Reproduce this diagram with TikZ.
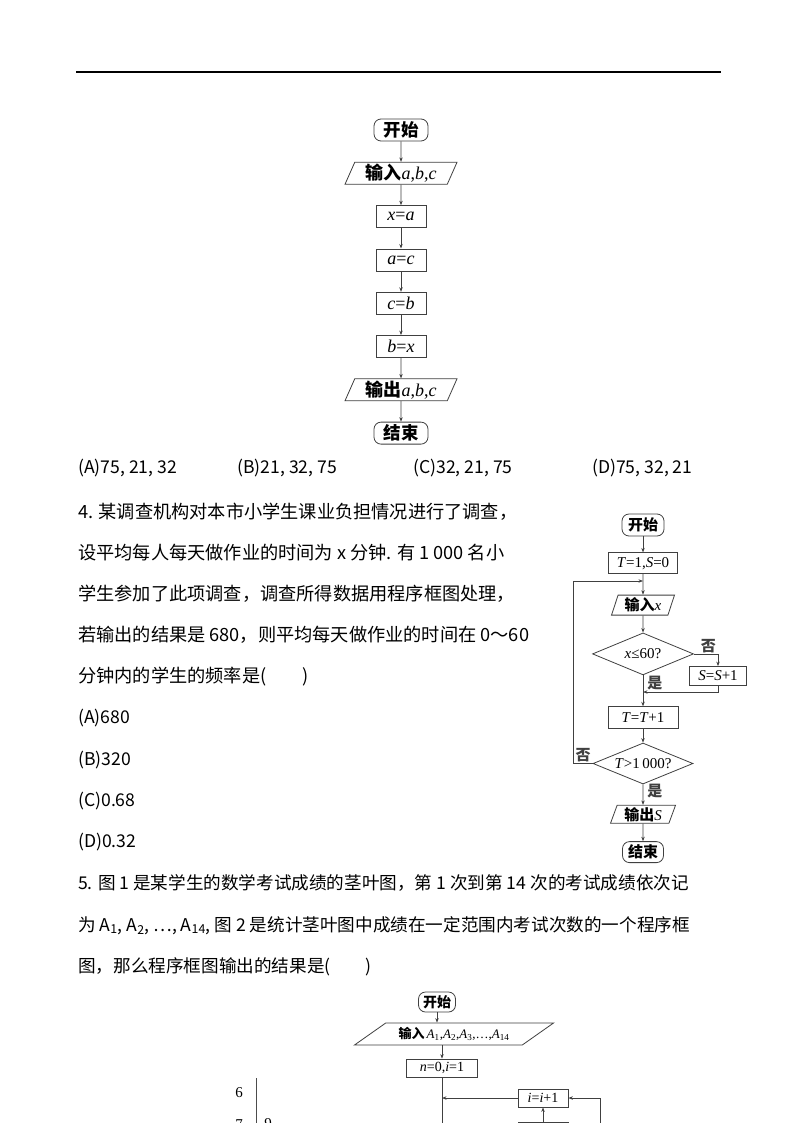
\documentclass[tikz,border=0pt]{standalone}
\usepackage{fontspec}
\setmainfont{Liberation Serif}
\newfontfamily\cjk{Noto Sans CJK SC}
\usetikzlibrary{arrows.meta, positioning, shapes.geometric, calc}
\newcommand\cnb[1]{{\cjk\bfseries #1}}
\newcommand\mv[1]{\textit{#1}}

\begin{document}
\begin{tikzpicture}[
  x=1pt, y=-1pt,
  >={Stealth[length=4.5pt, width=3.4pt]},
  node distance = 20.5pt,
  txtline/.style = {anchor=west, inner sep=0pt,
                    font=\cjk\fontsize{17.6}{20}\selectfont,
                    text height=15pt, text depth=3pt},
  q4line/.style  = {txtline, font=\cjk\fontsize{18.2}{20}\selectfont},
  termbox/.style = {draw=black!75, line width=0.8pt, rounded corners=7pt,
                    inner sep=1pt, minimum height=22pt,
                    font=\cjk\bfseries\fontsize{15}{16}\selectfont},
  procbox/.style = {draw=black!75, line width=0.8pt, inner sep=1pt,
                    minimum height=22pt, font=\fontsize{15}{16}\selectfont},
  iobox/.style   = {draw=black!75, line width=0.8pt, trapezium,
                    trapezium left angle=62, trapezium right angle=118,
                    trapezium stretches body, inner sep=1pt,
                    minimum height=22pt, font=\fontsize{15}{16}\selectfont},
  decbox/.style  = {draw=black!75, line width=0.8pt, diamond, aspect=2.4,
                    inner sep=0pt, font=\fontsize{15}{16}\selectfont},
  bigtxt/.style  = {inner ysep=0pt, font=\fontsize{18}{20}\selectfont},
  bigterm/.style = {inner ysep=0pt, font=\cjk\bfseries\fontsize{17.5}{20}\selectfont},
  arr/.style     = {->, line width=0.7pt, black!75},
  flow/.style    = {line width=0.7pt, black!75},
  lbl/.style     = {font=\cjk\bfseries\fontsize{15}{16}\selectfont, inner sep=1pt},
  leaf/.style    = {font=\fontsize{15}{16}\selectfont, inner sep=0pt},
]

\fill[white] (0,0) rectangle (794,1123);
\useasboundingbox (0,0) rectangle (794,1123);
\clip (0,0) rectangle (794,1123);

% header rule
\draw[line width=1.2pt] (76,72) -- (721,72);

% =============================================
% FLOWCHART 1 (swap a, b, c)
% =============================================
\node[termbox, bigterm, minimum width=54pt] (st1) at (401,130) {开始};
\node[iobox, bigtxt, minimum width=112pt, below=of st1] (in1)  {\cnb{输入}\mv{a},\mv{b},\mv{c}};
\node[procbox, bigtxt, minimum width=50pt, below=of in1] (s1)  {\mv{x}=\mv{a}};
\node[procbox, bigtxt, minimum width=50pt, below=of s1]  (s2)  {\mv{a}=\mv{c}};
\node[procbox, bigtxt, minimum width=50pt, below=of s2]  (s3)  {\mv{c}=\mv{b}};
\node[procbox, bigtxt, minimum width=50pt, below=of s3]  (s4)  {\mv{b}=\mv{x}};
\node[iobox, bigtxt, minimum width=112pt, below=of s4]   (out1) {\cnb{输出}\mv{a},\mv{b},\mv{c}};
\node[termbox, bigterm, minimum width=54pt, below=of out1] (end1) {结束};

\foreach \a/\b in {st1/in1, in1/s1, s1/s2, s2/s3, s3/s4, s4/out1, out1/end1}
  \draw[arr] (\a) -- (\b);

% answer choices of question 3
\node[txtline] (optA) at (78,467)  {(A)75, 21, 32};
\node[txtline] (optB) at (237,467) {(B)21, 32, 75};
\node[txtline] (optC) at (413,467) {(C)32, 21, 75};
\node[txtline] (optD) at (592,467) {(D)75, 32, 21};

% =============================================
% QUESTION 4 TEXT
% =============================================
\node[q4line] (q4a) at (78,512) {4. 某调查机构对本市小学生课业负担情况进行了调查，};
\node[q4line] (q4b) at (78,553) {设平均每人每天做作业的时间为 x 分钟. 有 1 000 名小};
\node[q4line] (q4c) at (78,594) {学生参加了此项调查，调查所得数据用程序框图处理，};
\node[q4line] (q4d) at (78,635) {若输出的结果是 680，则平均每天做作业的时间在 0～60};
\node[q4line] (q4e) at (78,676) {分钟内的学生的频率是(　　)};
\node[txtline] (q4A) at (78,717) {(A)680};
\node[txtline] (q4B) at (78,759) {(B)320};
\node[txtline] (q4C) at (78,800) {(C)0.68};
\node[txtline] (q4D) at (78,841) {(D)0.32};

% =============================================
% FLOWCHART 2 (frequency count)
% =============================================
\node[termbox, minimum width=42pt] (st2) at (643,525) {开始};
\node[procbox, minimum width=69pt, minimum height=21pt, below=16pt of st2] (ini2) {\mv{T}=1,\mv{S}=0};
\node[iobox, minimum width=63pt, minimum height=20pt, trapezium left angle=68,
      trapezium right angle=112, below=20.5pt of ini2] (in2) {\cnb{输入}\mv{x}};
\node[decbox, minimum width=101pt, minimum height=42pt, below=17pt of in2] (dec1) {\mv{x}≤60?};
\node[procbox, minimum width=57pt, minimum height=19pt] (inc2) at (718,676) {\mv{S}=\mv{S}+1};
\node[procbox, minimum width=70pt, below=31pt of dec1] (upd2) {\mv{T}=\mv{T}+1};
\node[decbox, minimum width=100pt, minimum height=41pt, below=13.5pt of upd2] (dec2) {\mv{T}>1\,000?};
\node[iobox, minimum width=65pt, minimum height=18pt, trapezium left angle=68,
      trapezium right angle=112, below=20.5pt of dec2] (out2) {\cnb{输出}\mv{S}};
\node[termbox, minimum width=41pt, minimum height=21pt, below=17.5pt of out2] (end2) {结束};

\coordinate (join2)  at (643,581);
\coordinate (merge2) at (643,692);

\draw[arr] (st2) -- (ini2);
\draw[arr] (ini2) -- (in2);
\draw[arr] (in2) -- (dec1);
\draw[arr] (dec1.east) -| (inc2.north)
    node[lbl, pos=0.3, above] {否};
\draw[arr] (inc2.south) |- (merge2);
\draw[arr] (dec1) -- (upd2)
    node[lbl, pos=0.25, right, xshift=3pt] {是};
\draw[arr] (upd2) -- (dec2);
\draw[arr] (dec2.west) -- ++(-19,0)
    node[lbl, midway, above] {否} |- (join2);
\draw[arr] (dec2) -- (out2)
    node[lbl, pos=0.3, right, xshift=3pt] {是};
\draw[arr] (out2) -- (end2);

% =============================================
% QUESTION 5 TEXT
% =============================================
\node[txtline] (q5a) at (78,883) {5. 图 1 是某学生的数学考试成绩的茎叶图，第 1 次到第 14 次的考试成绩依次记};
\node[txtline] (q5b) at (78,925) {为 A\textsubscript{1}, A\textsubscript{2}, …, A\textsubscript{14}, 图 2 是统计茎叶图中成绩在一定范围内考试次数的一个程序框};
\node[txtline] (q5c) at (78,966) {图，那么程序框图输出的结果是(　　)};

% =============================================
% FLOWCHART 3 (cut off at page end)
% =============================================
\node[termbox, minimum width=37pt, minimum height=20pt,
      font=\cjk\bfseries\fontsize{14}{16}\selectfont] (st3) at (437,1002) {开始};
\node[iobox, minimum width=199pt, trapezium left angle=26, trapezium right angle=154,
      font=\fontsize{13}{14}\selectfont] (in3) at (454,1034)
      {\cnb{输入}\,\mv{A}\textsubscript{1},\mv{A}\textsubscript{2},\mv{A}\textsubscript{3},…,\mv{A}\textsubscript{14}};
\node[procbox, minimum width=71pt, minimum height=18pt,
      font=\fontsize{14}{15}\selectfont] (ini3) at (442,1068) {\mv{n}=0,\mv{i}=1};
\node[procbox, minimum width=50pt, minimum height=18pt,
      font=\fontsize{14}{15}\selectfont] (inc3) at (543,1098) {\mv{i}=\mv{i}+1};
\node[procbox, minimum width=50pt, minimum height=18pt] (cmp3) at (543,1131) {};
\coordinate (loop3) at (600,1140);
\coordinate (down3) at (442,1140);

\draw[arr] (st3.south) -- (st3.south |- in3.north);
\draw[arr] (in3.south -| ini3.north) -- (ini3.north);
\draw[flow] (ini3.south) -- (down3);
\draw[arr] (inc3.west) -- (inc3.west -| ini3.south);
\draw[arr] (loop3) |- (inc3.east);
\draw[arr] (cmp3) -- (inc3);

% stem-and-leaf plot (figure 1)
\node[leaf] (stem6) at (239,1093) {6};
\node[leaf] (stem7) at (239,1125) {7};
\node[leaf] (leaf9) at (268,1124) {9};
\coordinate (bar3) at (256,1078);
\draw[line width=0.8pt, black!70] (bar3) -- ++(0,70);

\end{tikzpicture}
\end{document}
